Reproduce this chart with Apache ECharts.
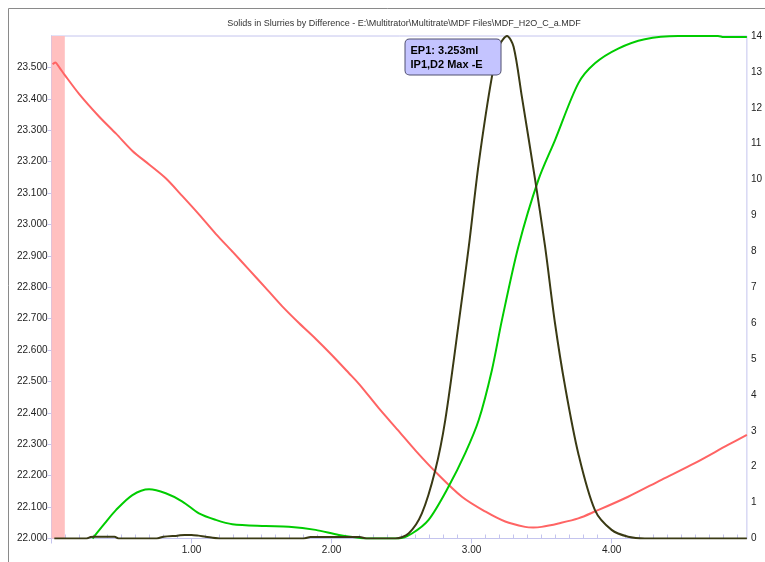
<!DOCTYPE html>
<html><head><meta charset="utf-8">
<script src="https://cdn.jsdelivr.net/npm/echarts@6/dist/echarts.min.js"></script>
<style>html,body{margin:0;padding:0;background:#fff}#c{width:765px;height:562px}</style>
</head><body><div id="c"></div>
<script>
const titleText = 'Solids in Slurries by Difference - E:\\Multitrator\\Multitrate\\MDF Files\\MDF_H2O_C_a.MDF';
const annotationLines = ['EP1: 3.253ml', 'IP1,D2 Max -E'];
const endpoint = [3.253, 14.0];
const pinkBand = [0, 0.095];

const redX = [0.008,0.027,0.056,0.091,0.198,0.341,0.461,0.578,0.697,0.816,0.935,1.053,1.173,1.291,1.410,1.529,1.648,1.767,1.886,2.000,2.123,2.200,2.337,2.474,2.600,2.741,2.931,3.097,3.240,3.382,3.440,3.500,3.620,3.762,3.881,4.118,4.356,4.594,4.831,4.966];
const redY = [23.510,23.516,23.500,23.478,23.415,23.343,23.289,23.234,23.191,23.147,23.090,23.032,22.970,22.914,22.856,22.798,22.739,22.686,22.636,22.585,22.527,22.490,22.415,22.345,22.280,22.213,22.133,22.086,22.054,22.037,22.035,22.037,22.048,22.064,22.086,22.133,22.187,22.240,22.298,22.330];

const greenX = [0.293,0.380,0.460,0.578,0.697,0.816,0.935,1.053,1.173,1.291,1.529,1.695,1.886,2.052,2.218,2.265,2.480,2.574,2.693,2.835,2.954,3.051,3.145,3.217,3.334,3.477,3.596,3.762,3.881,4.047,4.237,4.475,4.760,4.800,4.966];
const greenY = [0,0.42,0.79,1.21,1.37,1.26,1.03,0.70,0.52,0.40,0.35,0.33,0.24,0.10,0.01,0,0,0.14,0.52,1.44,2.37,3.30,4.69,6.09,8.13,9.99,11.10,12.68,13.24,13.65,13.91,14.0,14.0,13.97,13.97];

const blackX = [0.020,0.250,0.280,0.300,0.450,0.480,0.750,0.800,0.900,0.950,1.000,1.050,1.100,1.200,1.800,1.850,2.200,2.250,2.456,2.550,2.645,2.741,2.812,2.908,2.980,3.051,3.145,3.200,3.253,3.300,3.359,3.454,3.525,3.596,3.668,3.762,3.881,4.000,4.118,4.237,4.966];
const blackY = [0,0,0.04,0.05,0.05,0,0,0.05,0.08,0.10,0.10,0.08,0.05,0,0,0.04,0.04,0,0,0.14,0.70,1.91,3.30,6.00,8.13,10.45,12.86,13.75,14.0,13.70,12.31,9.99,8.13,5.99,4.23,2.37,0.79,0.24,0.05,0,0];

const xMin = 0, xMax = 4.966;
const leftMin = 22.0, leftMax = 23.6;
const rightMin = 0, rightMax = 14;

const zip = (xs, ys) => xs.map((x, i) => [x, ys[i]]);
const lav = '#c4c4ee';
const font = 'Liberation Sans, Arial, sans-serif';

const chart = echarts.init(document.getElementById('c'));
chart.setOption({
  backgroundColor: '#ffffff',
  animation: false,
  title: {
    text: titleText, left: 399, top: 14, textAlign: 'center',
    textStyle: {fontSize: 9, fontWeight: 'normal', color: '#333', fontFamily: font}
  },
  graphic: [{
    type: 'rect', silent: true, z: -1,
    shape: {x: 8.5, y: 8.5, width: 800, height: 600},
    style: {fill: null, stroke: '#8a8a8a', lineWidth: 1}
  }],
  grid: {left: 51.5, right: 16, top: 36, bottom: 23.5, show: true, borderColor: lav, borderWidth: 1, backgroundColor: 'transparent'},
  xAxis: [{
    type: 'value', min: xMin, max: xMax, interval: 1,
    axisLine: {lineStyle: {color: lav}},
    axisTick: {show: true, length: 5, lineStyle: {color: lav}},
    minorTick: {show: false},
    splitLine: {show: false},
    axisLabel: {showMaxLabel: false, color: '#222', fontSize: 10, fontFamily: font, margin: 7,
      formatter: v => v === 0 ? '' : v.toFixed(2)}
  }, {
    type: 'value', min: xMin, max: xMax, interval: 1, position: 'bottom',
    axisLine: {show: false},
    axisTick: {show: false, inside: true},
    minorTick: {show: true, splitNumber: 10, length: 4, lineStyle: {color: lav}},
    splitLine: {show: false},
    axisLabel: {show: false}
  }],
  yAxis: [{
    type: 'value', min: leftMin, max: leftMax, interval: 0.1, position: 'left',
    axisLine: {show: true, lineStyle: {color: lav}},
    axisTick: {show: true, length: 4, lineStyle: {color: lav}},
    splitLine: {show: false},
    axisLabel: {showMaxLabel: false, color: '#222', fontSize: 10, fontFamily: font, margin: 4,
      formatter: v => v.toFixed(3)}
  }, {
    type: 'value', min: rightMin, max: rightMax, interval: 1, position: 'right',
    axisLine: {show: true, lineStyle: {color: lav}},
    axisTick: {show: true, length: 4, lineStyle: {color: lav}},
    splitLine: {show: false},
    axisLabel: {color: '#222', fontSize: 10, fontFamily: font, margin: 4}
  }],
  series: [{
    name: 'E', type: 'line', xAxisIndex: 0, yAxisIndex: 0, data: zip(redX, redY),
    smooth: 0.3, showSymbol: false, lineStyle: {color: '#ff6464', width: 2},
    markArea: {silent: true, itemStyle: {color: '#ffc0c0'}, data: [[{xAxis: pinkBand[0]}, {xAxis: pinkBand[1]}]]}
  }, {
    name: 'V', type: 'line', xAxisIndex: 0, yAxisIndex: 1, data: zip(greenX, greenY),
    smooth: 0.3, showSymbol: false, lineStyle: {color: '#00cc00', width: 2}
  }, {
    name: 'D2', type: 'line', xAxisIndex: 0, yAxisIndex: 1, data: zip(blackX, blackY),
    smooth: 0.3, showSymbol: false, lineStyle: {color: '#3a3a14', width: 2},
    markPoint: {
      symbol: 'circle', symbolSize: 1, itemStyle: {color: '#3a3a14'},
      data: [{coord: endpoint}],
      label: {
        show: true, position: [-101, 4], align: 'left', verticalAlign: 'top',
        formatter: annotationLines.join('\n'),
        backgroundColor: '#c4c4ff', borderColor: '#505070', borderWidth: 1, borderRadius: 4,
        padding: [4, 5, 3, 5], lineHeight: 14, width: 85,
        color: '#000', fontSize: 11, fontWeight: 'bold', fontFamily: font
      }
    }
  }]
});
</script></body></html>
